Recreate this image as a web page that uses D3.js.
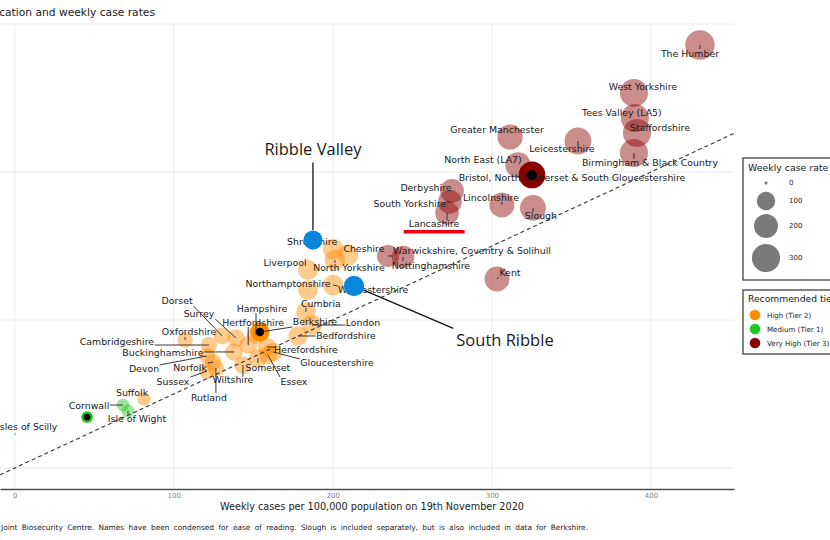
<!DOCTYPE html>
<html><head><meta charset="utf-8">
<script src="https://cdn.jsdelivr.net/npm/d3@7"></script>
<style>
html,body{margin:0;padding:0;background:#fff;overflow:hidden}
svg{display:block}
text{font-family:"DejaVu Sans",sans-serif}
</style></head><body>
<svg id="c" width="830" height="540"></svg>
<script>
// ---------------- data ----------------
const areas = [
  "The Humber","West Yorkshire","Tees Valley (LA5)","Staffordshire","Birmingham & Black Country",
  "Leicestershire","Greater Manchester","North East (LA7)","Bristol, North Somerset & South Gloucestershire",
  "Derbyshire","South Yorkshire","Lancashire","Lincolnshire","Slough","Kent",
  "Warwickshire, Coventry & Solihull","Nottinghamshire",
  "Shropshire","Cheshire","North Yorkshire","Liverpool","Worcestershire","Northamptonshire","Cumbria",
  "Bedfordshire","London","Berkshire","Hampshire","Hertfordshire","Herefordshire","Surrey","Dorset",
  "Oxfordshire","Cambridgeshire","Buckinghamshire","Devon","Norfolk","Sussex","Rutland","Wiltshire",
  "Somerset","Essex","Gloucestershire","Suffolk",
  "Cornwall","Isle of Wight","Isles of Scilly",""
];
const caseRate = [
  430.8,389.3,389.9,391.2,389.3,354.1,311.4,316.4,325.2,274.9,273.6,271.8,306.3,325.8,303.2,234.7,244.1,
  200.2,209.5,201.3,184.4,200.2,184.4,183.1,178.1,186.9,154.2,151.7,146.8,158.6,139.1,130.4,107.1,122.1,
  137.8,120.9,124.7,120.9,126.5,143.5,152.9,159.2,162.4,81.3,
  68.1,71.2,0.3,45.5
];
const compareRate = [
  571.6,506.8,473.0,452.7,425.7,441.9,447.3,409.5,396.0,374.3,359.5,344.6,355.4,351.4,255.4,286.5,285.1,
  296.0,287.8,281.0,267.6,247.3,240.5,210.8,178.4,193.2,183.8,179.7,166.2,163.5,175.7,178.4,173.0,166.2,
  156.8,151.4,143.2,131.0,135.1,139.2,148.6,152.7,156.8,93.2,
  85.1,77.0,46.0,68.9
];
const T3 = "Very High (Tier 3)", T2 = "High (Tier 2)", T1 = "Medium (Tier 1)";
const tiers = [
  T3,T3,T3,T3,T3,T3,T3,T3,T3,T3,T3,T3,T3,T3,T3,T3,T3,
  T2,T2,T2,T2,T2,T2,T2,T2,T2,T2,T2,T2,T2,T2,T2,T2,T2,T2,T2,T2,T2,T2,T2,T2,T2,T2,T2,
  T1,T1,T1,T1
];
const marked = ["Bristol, North Somerset & South Gloucestershire","Berkshire",""];

const tierNames = [T2, T1, T3];
const tierColors = ["#ff8c00", "#1ec81e", "#8b0000"];

const annoNames = ["Ribble Valley", "South Ribble"];
const annoRate = [187.5, 213.3];
const annoCompare = [308, 246];

const xTicks = [0, 100, 200, 300, 400];
const yGrid = [0, 200, 400, 600];
const sizeLegend = [0, 100, 200, 300];

const titleText = "Tier allocation and weekly case rates";
const xTitle = "Weekly cases per 100,000 population on 19th November 2020";
const captionLead = "Source: ";
const captionText = "Joint Biosecurity Centre. Names have been condensed for ease of reading. Slough is included separately, but is also included in data for Berkshire.";
const sizeTitle = "Weekly case rate";
const colorTitle = "Recommended tier";

// label placement (pixel offsets of label centre from its point)
const labelOffsets = {
  "The Humber":[-10,8],"West Yorkshire":[9,-6],"Tees Valley (LA5)":[-13,-5],"Staffordshire":[23,-6],
  "Birmingham & Black Country":[16,10],"Leicestershire":[-16,8],"Greater Manchester":[-13,-7],
  "North East (LA7)":[-35,-5],"Bristol, North Somerset & South Gloucestershire":[40,3],
  "Derbyshire":[-26,-4],"South Yorkshire":[-40,2],"Lancashire":[-13,11],"Lincolnshire":[-11,-8],
  "Slough":[8,8],"Kent":[13,-7],"Warwickshire, Coventry & Solihull":[84,-5],"Nottinghamshire":[28,8],
  "Shropshire":[-21,-7],"Cheshire":[16,-7],"North Yorkshire":[14,7],"Liverpool":[-23,-7],
  "Worcestershire":[40,5],"Northamptonshire":[-20,-7],"Cumbria":[15,-9],"Bedfordshire":[48,0],
  "London":[51,-3],"Berkshire":[55,-10],"Hampshire":[6,-27],"Hertfordshire":[5,-23],
  "Herefordshire":[39,2],"Surrey":[-37,-24],"Dorset":[-45,-35],"Oxfordshire":[4,-8],
  "Cambridgeshire":[-92,-4],"Buckinghamshire":[-71,1],"Devon":[-63,13],"Norfolk":[-23,5],
  "Sussex":[-34,10],"Rutland":[-7,29],"Wiltshire":[-10,15],"Somerset":[10,9],"Essex":[26,26],
  "Gloucestershire":[64,11],"Suffolk":[-12,-7],"Cornwall":[-34,0],"Isle of Wight":[9,7],
  "Isles of Scilly":[12,-7]
};
const annoOffsets = {"Ribble Valley":[0,-92], "South Ribble":[151,54]};

// ---------------- chart ----------------
const svg = d3.select("#c");
const W = 830, H = 540;
svg.append("rect").attr("width", W).attr("height", H).attr("fill", "#fff");

const panel = {left: 0, right: 734, top: 24, bottom: 489};
const x = d3.scaleLinear().domain([-9.24, 452.2]).range([panel.left, panel.right]);
const y = d3.scaleLinear().domain([0, 600]).range([468, 24]);
const r = d3.scaleSqrt().domain([0, 431]).range([0.8, 14.7]);
const color = d3.scaleOrdinal().domain(tierNames).range(tierColors);

const points = areas.map((name, i) => ({name, cx: caseRate[i], cy: compareRate[i], tier: tiers[i]}));

// grid
const grid = svg.append("g");
grid.selectAll("line.v").data(xTicks).join("line")
  .attr("x1", d => x(d)).attr("x2", d => x(d)).attr("y1", panel.top).attr("y2", panel.bottom)
  .attr("stroke", "#ececec").attr("stroke-width", 1);
grid.selectAll("line.h").data(yGrid).join("line")
  .attr("x1", panel.left).attr("x2", panel.right).attr("y1", d => y(d)).attr("y2", d => y(d))
  .attr("stroke", "#ececec").attr("stroke-width", 1);

// bubbles
svg.append("g").selectAll("circle").data(points).join("circle")
  .attr("cx", d => x(d.cx)).attr("cy", d => y(d.cy)).attr("r", d => r(d.cx))
  .attr("fill", d => color(d.tier)).attr("fill-opacity", 0.45);

// marked points
const mk = points.filter(d => marked.includes(d.name));
const gm = svg.append("g");
gm.selectAll("circle.o").data(mk).join("circle")
  .attr("cx", d => x(d.cx)).attr("cy", d => y(d.cy)).attr("r", d => r(d.cx) + 0.5)
  .attr("fill", d => color(d.tier));
gm.selectAll("circle.i").data(mk).join("circle")
  .attr("cx", d => x(d.cx)).attr("cy", d => y(d.cy)).attr("r", d => 2.2 + 0.22 * r(d.cx))
  .attr("fill", "#000");

// labels + segments
const segG = svg.append("g");
const labG = svg.append("g");
const labelled = points.filter(d => d.name && labelOffsets[d.name]);
const labs = labG.selectAll("text").data(labelled).join("text")
  .attr("x", d => x(d.cx) + labelOffsets[d.name][0])
  .attr("y", d => y(d.cy) + labelOffsets[d.name][1])
  .attr("text-anchor", "middle").attr("dominant-baseline", "central")
  .attr("font-size", 9.4).attr("fill", "#1a1a1a").text(d => d.name);

function nearestOnBox(px, py, b, pad) {
  const x0 = b.x - pad, x1 = b.x + b.width + pad, y0 = b.y - pad, y1 = b.y + b.height + pad;
  return [Math.max(x0, Math.min(px, x1)), Math.max(y0, Math.min(py, y1))];
}
labs.each(function(d) {
  const b = this.getBBox();
  const px = x(d.cx), py = y(d.cy);
  const [qx, qy] = nearestOnBox(px, py, {x: b.x, y: b.y + 2, width: b.width, height: b.height - 3}, 0.5);
  const len = Math.hypot(qx - px, qy - py);
  if (len > 2.5) {
    segG.append("line").attr("x1", px).attr("y1", py).attr("x2", qx).attr("y2", qy)
      .attr("stroke", "#222").attr("stroke-width", 0.9);
  }
});

// reference line y = x
const xd = x.domain();
svg.append("line")
  .attr("x1", x(xd[0])).attr("y1", y(xd[0])).attr("x2", x(xd[1])).attr("y2", y(xd[1]))
  .attr("stroke", "#333").attr("stroke-width", 1.1).attr("stroke-dasharray", "4,3");

// Lancashire underline
const lanc = labs.filter(d => d.name === "Lancashire").node().getBBox();
svg.append("rect").attr("x", lanc.x - 5).attr("y", lanc.y + lanc.height + 0.5)
  .attr("width", lanc.width + 10).attr("height", 3.5).attr("fill", "#e60012");

// annotations
const annos = annoNames.map((name, i) => ({name, cx: annoRate[i], cy: annoCompare[i]}));
const annoG = svg.append("g");
annos.forEach(d => {
  const px = x(d.cx), py = y(d.cy), rr = r(d.cx);
  const t = annoG.append("text")
    .attr("x", px + annoOffsets[d.name][0]).attr("y", py + annoOffsets[d.name][1])
    .attr("text-anchor", "middle").attr("dominant-baseline", "central")
    .style("font-family", "'Open Sans', sans-serif").attr("font-size", 16.5).attr("fill", "#1a1a1a")
    .text(d.name);
  const b = t.node().getBBox();
  const [qx, qy] = nearestOnBox(px, py, {x: b.x, y: b.y + 3, width: b.width, height: b.height - 3}, 3);
  const ang = Math.atan2(qy - py, qx - px);
  annoG.append("line").attr("x1", px + Math.cos(ang) * rr).attr("y1", py + Math.sin(ang) * rr)
    .attr("x2", qx).attr("y2", qy).attr("stroke", "#111").attr("stroke-width", 1.3);
});
annoG.selectAll("circle").data(annos).join("circle")
  .attr("cx", d => x(d.cx)).attr("cy", d => y(d.cy)).attr("r", d => r(d.cx) - 0.4)
  .attr("fill", "#0b86de");

// x axis
const ax = svg.append("g").attr("transform", `translate(0,${panel.bottom})`)
  .call(d3.axisBottom(x).tickValues(xTicks).tickSize(0).tickSizeOuter(0).tickPadding(4.5));
ax.select(".domain").attr("stroke", "#4d4d4d").attr("stroke-width", 1.5);
ax.selectAll("text").attr("font-size", 7).attr("fill", "#808080").style("font-family", "'DejaVu Sans',sans-serif");

svg.append("text").attr("x", 372).attr("y", 510).attr("text-anchor", "middle")
  .attr("font-size", 9.7).attr("fill", "#1a1a1a").text(xTitle);

// title
svg.append("text").attr("x", 155).attr("y", 16).attr("text-anchor", "end")
  .attr("font-size", 10.7).attr("fill", "#1a1a1a").text(titleText);

// caption
const cap = svg.append("text").attr("y", 530).attr("font-size", 7.4).attr("fill", "#222");
const capLead = cap.append("tspan").text(captionLead);
const capMain = cap.append("tspan").text(captionText);
{
  const leadW = capLead.node().getComputedTextLength();
  const mainW = capMain.node().getComputedTextLength();
  const spaces = (captionText.match(/ /g) || []).length;
  const target = 587;
  const ws = (target - mainW) / spaces;
  capMain.attr("word-spacing", ws);
  cap.attr("x", 3 - leadW - ws);
}

// size legend
const lg1 = svg.append("g");
lg1.append("rect").attr("x", 743).attr("y", 158).attr("width", 120).attr("height", 122)
  .attr("fill", "#fff").attr("stroke", "#333").attr("stroke-width", 1.2);
lg1.append("text").attr("x", 748).attr("y", 170.5).attr("font-size", 9.4).attr("fill", "#1a1a1a").text(sizeTitle);
const sizeY = [183, 201, 226, 258];
lg1.selectAll("circle").data(sizeLegend).join("circle")
  .attr("cx", 766).attr("cy", (d, i) => sizeY[i]).attr("r", d => r(d) + (d ? 0.2 : 0.4))
  .attr("fill", "#7a7a7a").attr("stroke", "#7a7a7a").attr("stroke-width", d => d ? 3 : 0.8);
lg1.selectAll("text.v").data(sizeLegend).join("text")
  .attr("x", 789).attr("y", (d, i) => sizeY[i]).attr("dominant-baseline", "central")
  .attr("font-size", 7).attr("fill", "#1a1a1a").text(d => d);

// colour legend
const lg2 = svg.append("g");
lg2.append("rect").attr("x", 743).attr("y", 290).attr("width", 120).attr("height", 64)
  .attr("fill", "#fff").attr("stroke", "#333").attr("stroke-width", 1.2);
lg2.append("text").attr("x", 748).attr("y", 302).attr("font-size", 9.2).attr("fill", "#1a1a1a").text(colorTitle);
const tierY = [315, 329, 343];
lg2.selectAll("circle").data(tierNames).join("circle")
  .attr("cx", 755).attr("cy", (d, i) => tierY[i]).attr("r", 5.3).attr("fill", d => color(d));
lg2.selectAll("text.t").data(tierNames).join("text")
  .attr("x", 767).attr("y", (d, i) => tierY[i]).attr("dominant-baseline", "central")
  .attr("font-size", 7.1).attr("fill", "#1a1a1a").text(d => d);
</script>
</body></html>
